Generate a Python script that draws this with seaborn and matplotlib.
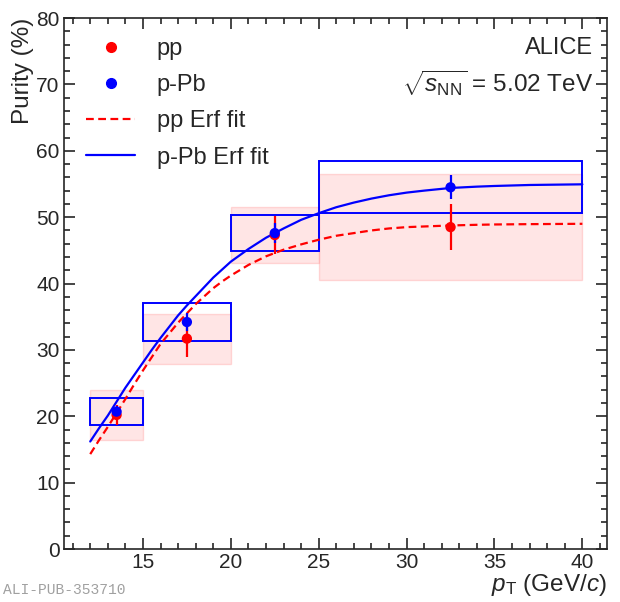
import numpy as np
import pandas as pd
import matplotlib
matplotlib.use("Agg")
import matplotlib.pyplot as plt
import seaborn as sns
from matplotlib.patches import Rectangle
from matplotlib.lines import Line2D
from matplotlib.ticker import MultipleLocator

# -------------------------------
# Data
# -------------------------------
bin_lo = [12, 15, 20, 25]
bin_hi = [15, 20, 25, 40]
pt_centre = [13.5, 17.5, 22.5, 32.5]

pp_purity = [20.2, 31.7, 47.3, 48.5]
pp_stat = [1.5, 2.7, 2.9, 3.5]
pp_sys = [3.7, 3.75, 4.2, 8.0]

ppb_purity = [20.7, 34.2, 47.6, 54.5]
ppb_stat = [0.8, 1.3, 1.5, 1.8]
ppb_sys = [2.0, 2.85, 2.7, 3.9]

# Erf fit curves
fit_pt = [12, 12.5, 13, 13.5, 14, 14.5, 15, 15.5, 16, 16.5, 17, 17.5, 18, 18.5, 19, 19.5,
          20, 21, 22, 23, 24, 25, 26, 27, 28, 29, 30, 31, 32.5, 34, 35, 37, 40]
pp_fit = [14.3, 16.4, 18.4, 20.5, 22.6, 24.8, 26.9, 28.9, 30.9, 32.5, 34.1, 35.5, 36.9,
          38.1, 39.3, 40.3, 41.2, 42.8, 44.1, 45.1, 45.9, 46.6, 47.2, 47.6, 48.0, 48.3,
          48.5, 48.6, 48.75, 48.85, 48.9, 48.95, 49.0]
ppb_fit = [16.2, 18.2, 20.1, 22.2, 24.3, 26.2, 28.1, 30.0, 31.8, 33.5, 35.2, 36.7, 38.1,
           39.5, 40.9, 42.1, 43.3, 45.2, 46.9, 48.3, 49.6, 50.6, 51.5, 52.2, 52.8, 53.3,
           53.7, 54.0, 54.4, 54.6, 54.7, 54.85, 54.95]

fits = pd.DataFrame({"pt": fit_pt * 2, "purity": pp_fit + ppb_fit,
                     "system": ["pp"] * len(fit_pt) + ["p-Pb"] * len(fit_pt)})
points = pd.DataFrame({"pt": pt_centre * 2, "purity": pp_purity + ppb_purity,
                       "system": ["pp"] * 4 + ["p-Pb"] * 4})

RED = "#ff0000"
BLUE = "#0000ff"

# -------------------------------
# Style
# -------------------------------
sns.set_style("ticks")
plt.rcParams["font.family"] = ["Liberation Sans", "DejaVu Sans"]
plt.rcParams["mathtext.fontset"] = "custom"
plt.rcParams["mathtext.rm"] = "Liberation Sans"
plt.rcParams["mathtext.it"] = "Liberation Sans:italic"

fig = plt.figure(figsize=(6.2, 6.02), dpi=100)
ax = fig.add_axes([0.103, 0.088, 0.876, 0.882])

# systematic boxes
for lo, hi, y, s in zip(bin_lo, bin_hi, pp_purity, pp_sys):
    ax.add_patch(Rectangle((lo, y - s), hi - lo, 2 * s, facecolor=(1, 0, 0, 0.1),
                           edgecolor=(1, 0.6, 0.6, 0.35), lw=1.0, zorder=1))
for lo, hi, y, s in zip(bin_lo, bin_hi, ppb_purity, ppb_sys):
    ax.add_patch(Rectangle((lo, y - s), hi - lo, 2 * s, facecolor="none",
                           edgecolor=BLUE, lw=1.4, zorder=3))

# fits
sns.lineplot(data=fits, x="pt", y="purity", hue="system", style="system",
             palette={"pp": RED, "p-Pb": BLUE},
             dashes={"pp": (3.5, 2.0), "p-Pb": ""}, lw=1.6, legend=False, ax=ax, zorder=4)

# statistical errors + points
ax.errorbar(pt_centre, pp_purity, yerr=pp_stat, fmt="none", ecolor=RED, elinewidth=1.6, zorder=5)
ax.errorbar(pt_centre, ppb_purity, yerr=ppb_stat, fmt="none", ecolor=BLUE, elinewidth=1.6, zorder=6)
sns.scatterplot(data=points, x="pt", y="purity", hue="system",
                palette={"pp": RED, "p-Pb": BLUE}, s=55, edgecolor="none",
                legend=False, ax=ax, zorder=7)

# axes
ax.set_xlim(10.5, 41.4)
ax.set_ylim(0, 80)
ax.xaxis.set_major_locator(MultipleLocator(5))
ax.xaxis.set_minor_locator(MultipleLocator(1))
ax.yaxis.set_major_locator(MultipleLocator(10))
ax.yaxis.set_minor_locator(MultipleLocator(2))
ax.tick_params(which="both", direction="in", top=True, right=True, width=1.2,
               labelsize=15, pad=3)
ax.tick_params(which="major", length=8)
ax.tick_params(which="minor", length=4)
for sp in ax.spines.values():
    sp.set_linewidth(1.2)

ax.set_xlabel(r"$p_{\rm T}$ (GeV/$c$)", fontsize=17.5, loc="right", labelpad=0)
ax.set_ylabel("Purity (%)", fontsize=17.5, loc="top", labelpad=2)

# legend
handles = [
    Line2D([], [], ls="none", marker="o", color=RED, markersize=7),
    Line2D([], [], ls="none", marker="o", color=BLUE, markersize=7),
    Line2D([], [], color=RED, ls=(0, (3.5, 2.0)), lw=1.6),
    Line2D([], [], color=BLUE, lw=1.6),
]
ax.legend(handles, ["pp", "p-Pb", "pp Erf fit", "p-Pb Erf fit"], loc="upper left",
          bbox_to_anchor=(0.023, 0.98), frameon=False, fontsize=17,
          handlelength=2.1, labelspacing=0.6, handletextpad=0.9, borderaxespad=0)

ax.text(0.975, 0.965, "ALICE", transform=ax.transAxes, ha="right", va="top", fontsize=17)
ax.text(0.975, 0.905, r"$\sqrt{s_{\rm NN}}$ = 5.02 TeV", transform=ax.transAxes,
        ha="right", va="top", fontsize=17.5)

fig.text(0.005, 0.008, "ALI-PUB-353710", family=["Liberation Mono", "DejaVu Sans Mono"],
         color="#a0a0a0", fontsize=10.5, ha="left", va="bottom")

fig.savefig("out.png", dpi=100)
